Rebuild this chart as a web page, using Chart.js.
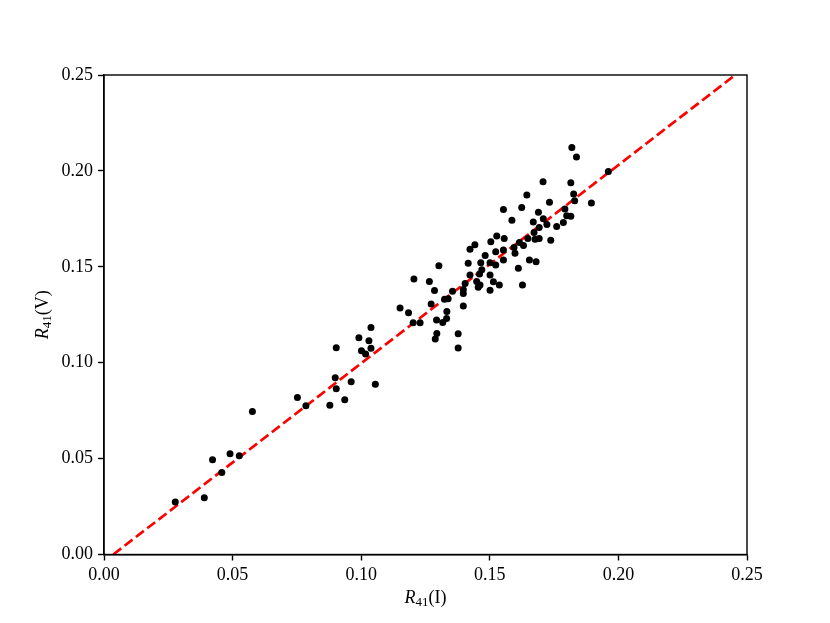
<!DOCTYPE html>
<html>
<head>
<meta charset="utf-8">
<script src="https://cdn.jsdelivr.net/npm/chart.js@4"></script>
<style>
  body { margin: 0; background: #fff; }
  #wrap { width: 830px; height: 623px; }
</style>
</head>
<body>
<div id="wrap"><canvas id="scatterChart" width="830" height="623"></canvas></div>
<script>
// R41(I) values (x) and R41(V) values (y)
const r41I = [
  0.0277, 0.0390, 0.0422, 0.0458, 0.0490, 0.0526, 0.0577, 0.0752, 0.0785, 0.0878,
  0.0899, 0.0903, 0.0936, 0.0961, 0.1055, 0.0903, 0.0991, 0.1038, 0.1030, 0.1001,
  0.1017, 0.1038, 0.1151, 0.1184, 0.1205, 0.1202, 0.1229, 0.1265, 0.1285, 0.1302,
  0.1272, 0.1293, 0.1294, 0.1288, 0.1317, 0.1332, 0.1333, 0.1324, 0.1338, 0.1355,
  0.1377, 0.1377, 0.1423, 0.1460, 0.1449, 0.1462, 0.1455, 0.1404, 0.1397, 0.1397,
  0.1397, 0.1442, 0.1423, 0.1504, 0.1482, 0.1416, 0.1465, 0.1501, 0.1469, 0.1586,
  0.1669, 0.1672, 0.1692, 0.1527, 0.1556, 0.1615, 0.1648, 0.1594, 0.1631, 0.1523,
  0.1553, 0.1598, 0.1553, 0.1523, 0.1654, 0.1680, 0.1611, 0.1501, 0.1514, 0.1537,
  0.1501, 0.1627, 0.1644, 0.1553, 0.1624, 0.1689, 0.1819, 0.1837, 0.1961, 0.1707,
  0.1815, 0.1826, 0.1732, 0.1830, 0.1895, 0.1792, 0.1799, 0.1815, 0.1708, 0.1786,
  0.1722, 0.1760, 0.1676, 0.1692, 0.1737
];
const r41V = [
  0.0274, 0.0296, 0.0494, 0.0428, 0.0525, 0.0515, 0.0746, 0.0819, 0.0775, 0.0778,
  0.0921, 0.0864, 0.0807, 0.0901, 0.0887, 0.1078, 0.1130, 0.1184, 0.1114, 0.1062,
  0.1045, 0.1075, 0.1285, 0.1260, 0.1436, 0.1208, 0.1208, 0.1423, 0.1377, 0.1505,
  0.1306, 0.1222, 0.1152, 0.1124, 0.1210, 0.1230, 0.1267, 0.1331, 0.1333, 0.1372,
  0.1151, 0.1076, 0.1457, 0.1462, 0.1423, 0.1405, 0.1394, 0.1413, 0.1382, 0.1361,
  0.1295, 0.1615, 0.1592, 0.1630, 0.1559, 0.1518, 0.1521, 0.1521, 0.1485, 0.1743,
  0.1734, 0.1679, 0.1705, 0.1661, 0.1648, 0.1627, 0.1648, 0.1601, 0.1611, 0.1578,
  0.1587, 0.1570, 0.1535, 0.1509, 0.1535, 0.1526, 0.1492, 0.1457, 0.1422, 0.1405,
  0.1378, 0.1405, 0.1874, 0.1799, 0.1809, 0.1785, 0.2122, 0.2072, 0.1997, 0.1943,
  0.1938, 0.1880, 0.1836, 0.1844, 0.1832, 0.1802, 0.1766, 0.1763, 0.1750, 0.1731,
  0.1721, 0.1710, 0.1643, 0.1648, 0.1639
];

// fitted line end points (dashed red)
const fitX = [0.0036, 0.2454];
const fitY = [0.0, 0.25];

const xTicks = [0.00, 0.05, 0.10, 0.15, 0.20, 0.25];
const yTicks = [0.00, 0.05, 0.10, 0.15, 0.20, 0.25];

const serif = '"Liberation Serif", "DejaVu Serif", serif';

function drawLabel(ctx, cx, cy, angle, sub, rest) {
    ctx.save();
    ctx.translate(cx, cy);
    ctx.rotate(angle);
    ctx.fillStyle = "#000";
    ctx.textBaseline = "alphabetic";
    ctx.textAlign = "left";
    ctx.font = "italic 18px " + serif;
    const wR = ctx.measureText("R").width;
    ctx.font = "13px " + serif;
    const wS = ctx.measureText(sub).width;
    ctx.font = "18px " + serif;
    const wT = ctx.measureText(rest).width;
    let x0 = -(wR + wS + wT) / 2;
    ctx.font = "italic 18px " + serif;
    ctx.fillText("R", x0, 6);
    ctx.font = "13px " + serif;
    ctx.fillText(sub, x0 + wR, 9);
    ctx.font = "18px " + serif;
    ctx.fillText(rest, x0 + wR + wS, 6);
    ctx.restore();
}

const framePlugin = {
    id: "frame",
    afterDraw(chart) {
        const { ctx, chartArea: a } = chart;
        ctx.save();
        ctx.strokeStyle = "#000";
        ctx.lineWidth = 1.4;
        ctx.strokeRect(a.left, a.top, a.right - a.left, a.bottom - a.top);
        ctx.restore();
        drawLabel(ctx, (a.left + a.right) / 2, 597, 0, "41", "(I)");
        drawLabel(ctx, 42, (a.top + a.bottom) / 2, -Math.PI / 2, "41", "(V)");
    }
};

const ctx = document.getElementById("scatterChart").getContext("2d");
new Chart(ctx, {
    type: "scatter",
    data: {
        datasets: [
            {
                label: "data",
                data: r41I.map((x, i) => ({ x: x, y: r41V[i] })),
                backgroundColor: "#000",
                borderWidth: 0,
                pointRadius: 3.5,
                order: 1
            },
            {
                label: "fit",
                type: "line",
                data: fitX.map((x, i) => ({ x: x, y: fitY[i] })),
                borderColor: "#ff0000",
                borderWidth: 2.7,
                borderDash: [10, 4.3],
                pointRadius: 0,
                fill: false,
                order: 2
            }
        ]
    },
    options: {
        responsive: false,
        animation: false,
        layout: { padding: { top: 75, right: 83, left: 0, bottom: 0 } },
        plugins: {
            legend: { display: false },
            tooltip: { enabled: false }
        },
        scales: {
            x: {
                type: "linear",
                min: 0,
                max: 0.25,
                afterBuildTicks: (scale) => { scale.ticks = xTicks.map(v => ({ value: v })); },
                afterFit: (scale) => { scale.height = 68.5; },
                ticks: {
                    color: "#000",
                    font: { family: serif, size: 18 },
                    padding: 4,
                    maxRotation: 0,
                    callback: (v) => v.toFixed(2)
                },
                grid: {
                    drawOnChartArea: false,
                    drawTicks: true,
                    tickLength: 6,
                    tickColor: "#000",
                    tickWidth: 1.4
                },
                border: { display: true, color: "#000", width: 1.4 }
            },
            y: {
                type: "linear",
                min: 0,
                max: 0.25,
                afterBuildTicks: (scale) => { scale.ticks = yTicks.map(v => ({ value: v })); },
                afterFit: (scale) => { scale.width = 104; },
                ticks: {
                    color: "#000",
                    font: { family: serif, size: 18 },
                    padding: 5,
                    callback: (v) => v.toFixed(2)
                },
                grid: {
                    drawOnChartArea: false,
                    drawTicks: true,
                    tickLength: 6,
                    tickColor: "#000",
                    tickWidth: 1.4
                },
                border: { display: true, color: "#000", width: 1.4 }
            }
        }
    },
    plugins: [framePlugin]
});
</script>
</body>
</html>
